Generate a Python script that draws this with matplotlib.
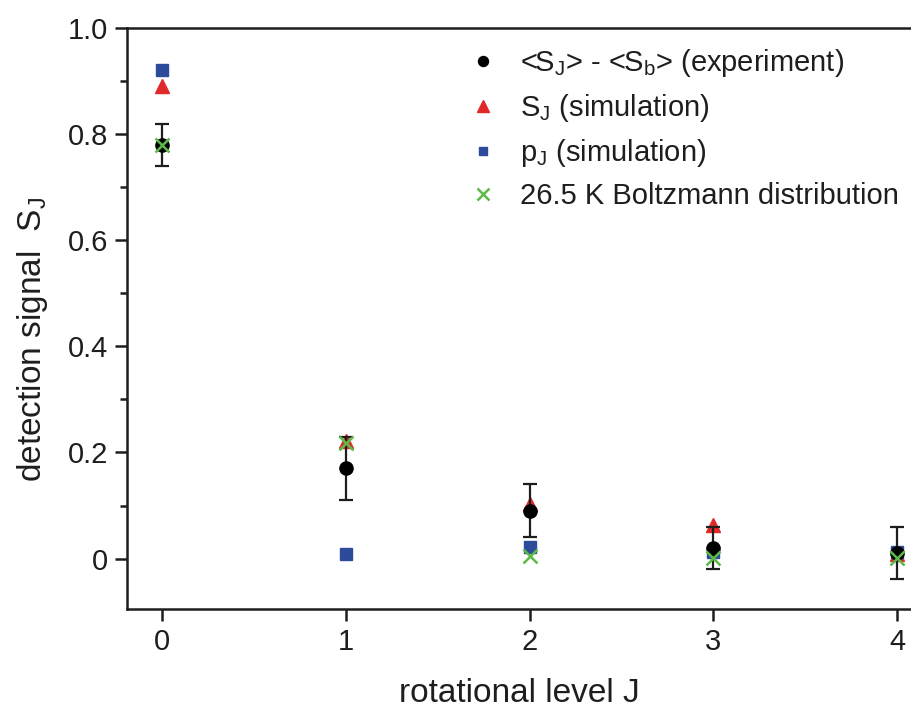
import matplotlib
matplotlib.use("Agg")
import matplotlib.pyplot as plt
import numpy as np
from matplotlib.ticker import MultipleLocator, FuncFormatter

plt.rcParams['font.family'] = ['Liberation Sans', 'DejaVu Sans']
plt.rcParams['mathtext.default'] = 'regular'

# rotational levels
J = [0, 1, 2, 3, 4]
# <S_J> - <S_b> (experiment) with error bars
s_exp = [0.78, 0.17, 0.09, 0.02, 0.01]
s_err = [0.04, 0.06, 0.05, 0.039, 0.049]
# S_J (simulation)
s_sim = [0.89, 0.222, 0.103, 0.064, 0.008]
# p_J (simulation)
p_sim = [0.92, 0.009, 0.022, 0.013, 0.012]
# 26.5 K Boltzmann distribution
boltz = [0.78, 0.218, 0.004, 0.001, 0.001]

red = '#e02a2a'
blue = '#2d4b9b'
green = '#5cbb48'
ink = '#1e1e1e'

fig = plt.figure(figsize=(9.11, 7.09), dpi=100)
ax = fig.add_axes([127/911, 100/709, 1 - 127/911, (609-28)/709])

h_sim, = ax.plot(J, s_sim, ls='none', marker='^', ms=10.5, color=red, mec=red, zorder=2)
h_p, = ax.plot(J, p_sim, ls='none', marker='s', ms=8, color=blue, mec=blue, zorder=3)
eb = ax.errorbar(J, s_exp, yerr=s_err, fmt='o', ms=9.5, color='black', ecolor=ink,
                 elinewidth=1.6, capsize=5, capthick=1.6, zorder=4)
h_b, = ax.plot(J, boltz, ls='none', marker='x', ms=10, mew=1.8, color=green, zorder=5)

h_exp, = ax.plot([], [], ls='none', marker='o', ms=9, color='black')

ax.set_xlim(-0.19, 4.075)
ax.set_ylim(-0.095, 1.0)

ax.spines['right'].set_visible(False)
for s in ['left', 'bottom', 'top']:
    ax.spines[s].set_linewidth(1.8)
    ax.spines[s].set_color(ink)

ax.xaxis.set_major_locator(MultipleLocator(1))
ax.yaxis.set_major_locator(MultipleLocator(0.2))
ax.yaxis.set_minor_locator(MultipleLocator(0.1))
ax.yaxis.set_major_formatter(FuncFormatter(lambda v, p: '0' if abs(v) < 1e-9 else '%.1f' % v))

ax.tick_params(axis='both', which='major', direction='out', length=8.5, width=1.8,
               labelsize=21, pad=5, color=ink, labelcolor=ink)
ax.tick_params(axis='y', which='minor', direction='out', length=5, width=1.8, color=ink)
ax.tick_params(top=False, right=False, which='both')

ax.set_xlabel('rotational level J', fontsize=24, color=ink, labelpad=16)
ax.set_ylabel('detection signal  S$_J$', fontsize=24, color=ink)
ax.yaxis.set_label_coords(-0.098, 0.463)

leg = fig.legend([h_exp, h_sim, h_p, h_b],
                 ['<S$_J$> - <S$_b$> (experiment)', 'S$_J$ (simulation)',
                  'p$_J$ (simulation)', '26.5 K Boltzmann distribution'],
                 loc='upper left', bbox_to_anchor=(467/911, 1 - 47/709),
                 frameon=False, fontsize=21, handlelength=1.1, handletextpad=0.72,
                 labelspacing=0.45, markerscale=0.8, borderaxespad=0, borderpad=0)
for t in leg.get_texts():
    t.set_color(ink)

fig.savefig('out.png', dpi=100)
